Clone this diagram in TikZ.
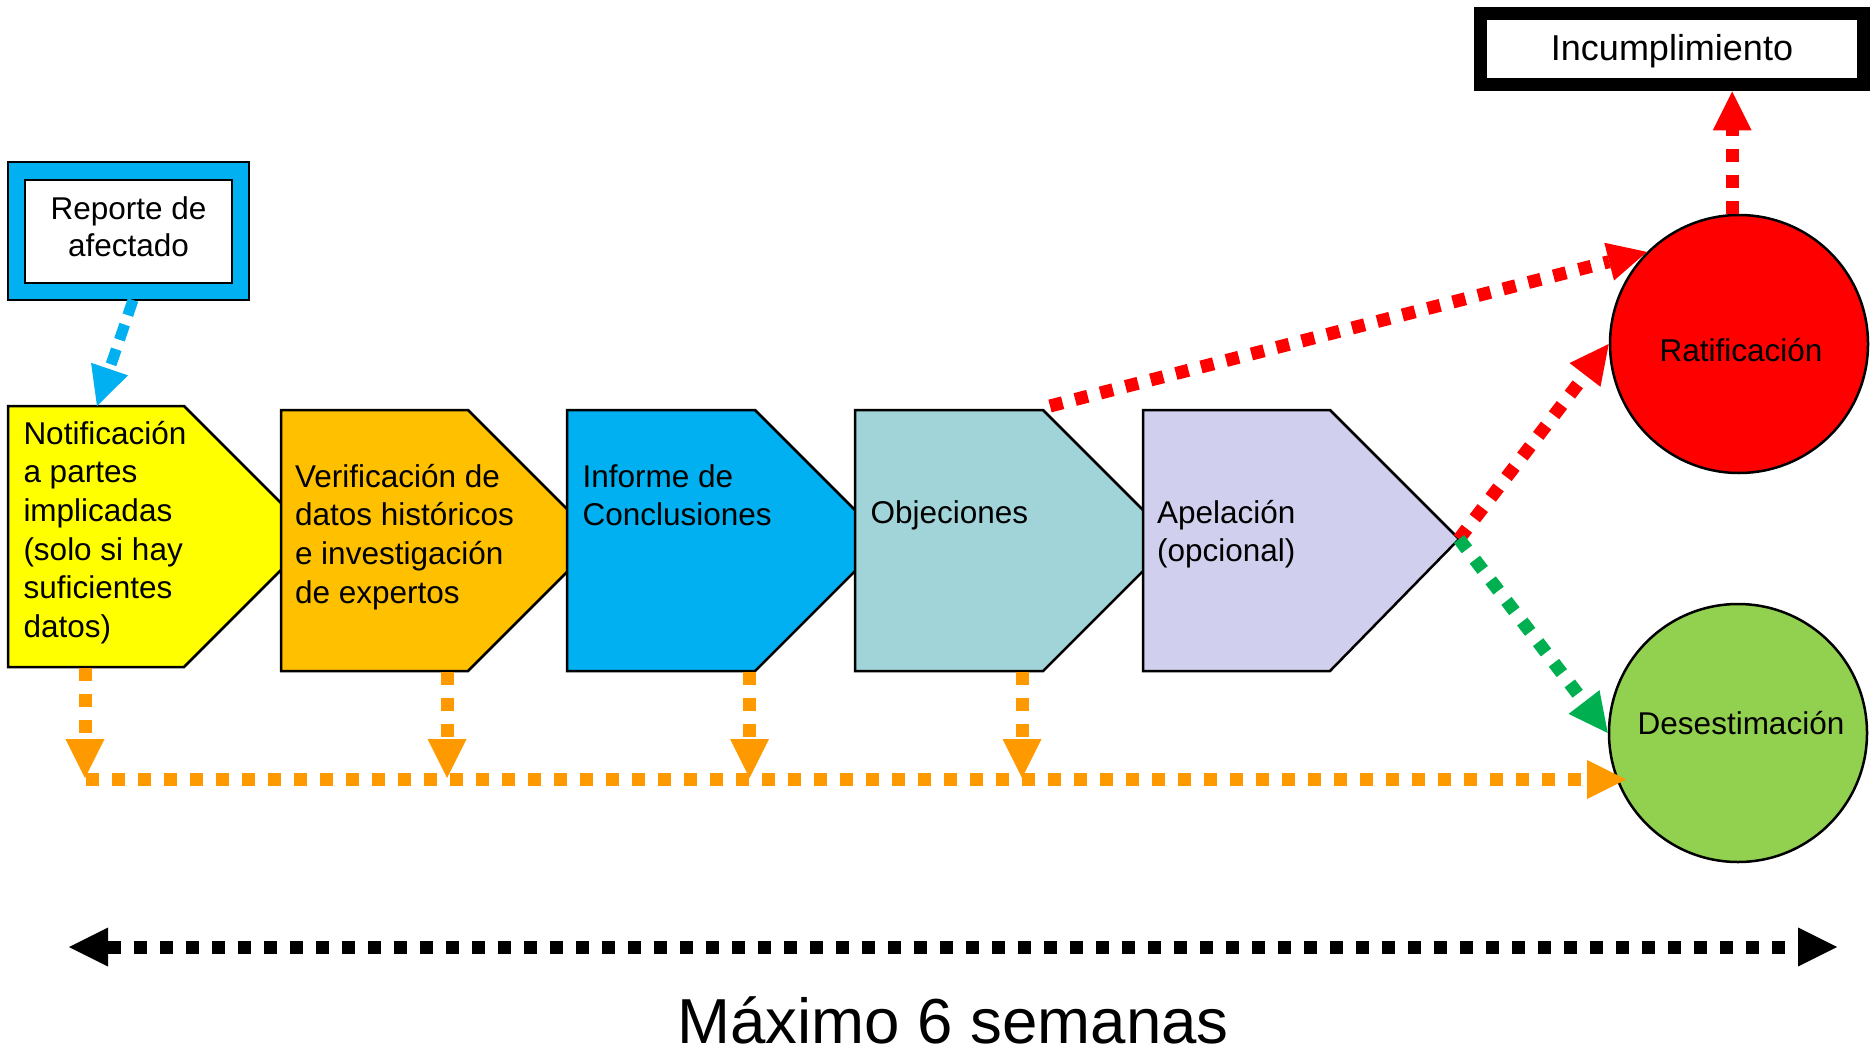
\documentclass[tikz,border=0pt]{standalone}
\usepackage{fontspec}
\setmainfont{Liberation Sans}
\usetikzlibrary{arrows.meta,calc}
\definecolor{cyellow}{HTML}{FFFF00}
\definecolor{corange}{HTML}{FFC000}
\definecolor{cblue}{HTML}{00B0F0}
\definecolor{cteal}{HTML}{A0D4D8}
\definecolor{clav}{HTML}{D0D0EE}
\definecolor{cred}{HTML}{FF0000}
\definecolor{cgreen}{HTML}{92D050}
\definecolor{cgarrow}{HTML}{00B050}
\definecolor{carrow}{HTML}{FF9900}
\newcommand{\mylines}[1]{\begin{tabular}[t]{@{}l@{}}#1\end{tabular}}
\newcommand{\mylinesc}[1]{\begin{tabular}[t]{@{}c@{}}#1\end{tabular}}
\begin{document}
\begin{tikzpicture}[x=1pt,y=-1pt,
  chev/.style={draw=black,line width=2.5pt,line join=miter},
  txt/.style={inner sep=0pt,outer sep=0pt,anchor=base west,font=\fontsize{31.5}{38.7}\selectfont},
  ctxt/.style={inner sep=0pt,outer sep=0pt,anchor=base,font=\fontsize{31.5}{37.5}\selectfont},
  conn/.style={line width=13pt,dash pattern=on 13pt off 13pt,
    -{Triangle[length=39pt,width=39pt,line width=0pt]}},
  bconn/.style={line width=11pt,dash pattern=on 16pt off 10pt,
    -{Triangle[length=39pt,width=39pt,line width=0pt]}},
  disc/.style={circle,draw=black,line width=2.5pt,inner sep=0pt,minimum size=258pt}
]
\useasboundingbox (0,0) rectangle (1870,1051);

% chevrons
\draw[chev,fill=cyellow] (8,406) -- (184,406) -- (314.5,536.5) -- (184,667) -- (8,667) -- cycle;
\draw[chev,fill=corange] (281,410) -- (468,410) -- (598.5,540.5) -- (468,671) -- (281,671) -- cycle;
\draw[chev,fill=cblue] (567,410) -- (755,410) -- (885.5,540.5) -- (755,671) -- (567,671) -- cycle;
\draw[chev,fill=cteal] (855,410) -- (1043,410) -- (1173.5,540.5) -- (1043,671) -- (855,671) -- cycle;
\draw[chev,fill=clav] (1143,410) -- (1330,410) -- (1459,539) -- (1330,671) -- (1143,671) -- cycle;

\node[txt] (t1) at (23.5,444) {\mylines{Notificación\\a partes\\implicadas\\(solo si hay\\suficientes\\datos)}};
\node[txt] (t2) at (295,487) {\mylines{Verificación de\\datos históricos\\e investigación\\de expertos}};
\node[txt] (t3) at (582.5,487) {\mylines{Informe de\\Conclusiones}};
\node[txt] (t4) at (870.5,523) {Objeciones};
\node[txt] (t5) at (1157,523) {\mylines{Apelación\\(opcional)}};

% reporte box
\node[draw=black,line width=2.5pt,fill=cblue,minimum width=241pt,minimum height=138pt,inner sep=0pt] (rep) at (128.5,231) {};
\node[draw=black,line width=2.5pt,fill=white,minimum width=207pt,minimum height=103pt,inner sep=0pt] (repin) at (128.5,231.5) {};
\node[ctxt] (repl) at (128.5,219) {\mylinesc{Reporte de\\afectado}};

% incumplimiento
\node[draw=black,line width=13pt,fill=white,minimum width=383pt,minimum height=71pt,inner sep=0pt] (inc) at (1672,49.5) {};
\node[inner sep=0pt,anchor=base,font=\fontsize{36}{40}\selectfont] (incl) at (1672,61) {Incumplimiento};

% circles
\node[disc,fill=cred] (rat) at (1739,344) {};
\node[ctxt] (ratl) at (1741,361) {Ratificación};
\node[disc,fill=cgreen] (des) at (1738,733) {};
\node[ctxt] (desl) at (1741,734) {Desestimación};

% coordinates
\coordinate (bs) at (133,300);
\coordinate (bt) at (97,406);
\coordinate (oc) at (1050,406);
\coordinate (ap) at (1459,539);
\coordinate (v1) at (85,668);
\coordinate (v2) at (447,672);
\coordinate (v3) at (749.5,672);
\coordinate (v4) at (1022,672);
\coordinate (hs) at (86,779.5);
\coordinate (he) at (1626,779.5);
\coordinate (bl) at (69,947);
\coordinate (br) at (1837,947);

% connectors
\draw[bconn,cblue] (bs) -- (bt);
\draw[conn,cred] (oc) -- (rat.135);
\draw[conn,cred] (ap) -- (rat.180);
\draw[conn,cred] (rat.93) -- (rat.93 |- inc.south);
\draw[conn,cgarrow] (ap) -- (des.180);
\draw[conn,carrow] (hs) -- (he);
\foreach \v in {v1,v2,v3,v4}{
  \draw[conn,carrow] (\v) -- (\v |- 0,778);
}
\draw[conn,black,{Triangle[length=39pt,width=39pt,line width=0pt]}-{Triangle[length=39pt,width=39pt,line width=0pt]}] (bl) -- (br);

\node[inner sep=0pt,anchor=base,font=\fontsize{63.6}{70}\selectfont] (maxl) at (953,1043) {Máximo 6 semanas};
\end{tikzpicture}
\end{document}
